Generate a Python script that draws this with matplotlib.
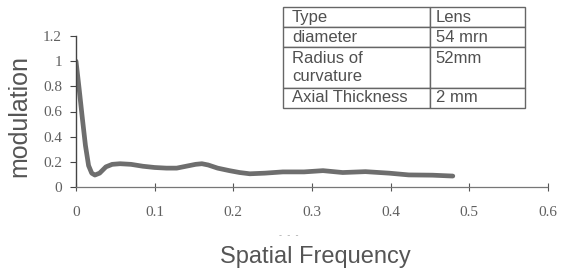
import numpy as np
import matplotlib.pyplot as plt

# MTF curve
freq = [0.0, 0.004, 0.008, 0.012, 0.016, 0.020, 0.024, 0.030, 0.038, 0.046, 0.056,
        0.070, 0.085, 0.100, 0.115, 0.128, 0.140, 0.152, 0.160, 0.168, 0.180,
        0.195, 0.208, 0.221, 0.240, 0.263, 0.290, 0.314, 0.339, 0.368, 0.398,
        0.423, 0.453, 0.479]
modulation = [1.00, 0.78, 0.55, 0.33, 0.17, 0.11, 0.095, 0.11, 0.16, 0.18, 0.185,
              0.18, 0.165, 0.155, 0.15, 0.15, 0.165, 0.18, 0.185, 0.175, 0.15,
              0.13, 0.115, 0.105, 0.11, 0.12, 0.12, 0.13, 0.115, 0.122, 0.11,
              0.096, 0.094, 0.087]

xticks = [0, 0.1, 0.2, 0.3, 0.4, 0.5, 0.6]
yticks = [0, 0.2, 0.4, 0.6, 0.8, 1.0, 1.2]
xtick_labels = ['0', '0.1', '0.2', '0.3', '0.4', '0.5', '0.6']
ytick_labels = ['0', '0.2', '0.4', '0.6', '0.8', '1', '1.2']

table_rows = [['Type', 'Lens'],
              ['diameter', '54 mrn'],
              ['Radius of\ncurvature', '52mm\n '],
              ['Axial Thickness', '2 mm']]
row_heights = [1, 1, 2, 1]

fig = plt.figure(figsize=(5.61, 2.73), dpi=100)
ax = fig.add_axes([76 / 561, 1 - 187 / 273, 472 / 561, 151 / 273])

ax.plot(freq, modulation, color='#6e6e6e', lw=3.4, solid_capstyle='round')

ax.set_xlim(0, 0.6)
ax.set_ylim(0, 1.2)
ax.set_xticks(xticks)
ax.set_xticklabels(xtick_labels)
ax.set_yticks(yticks)
ax.set_yticklabels(ytick_labels)

for s in ['top', 'right']:
    ax.spines[s].set_visible(False)
ax.spines['left'].set_color('#444444')
ax.spines['left'].set_linewidth(1.0)
ax.spines['bottom'].set_color('#777777')
ax.spines['bottom'].set_linewidth(0.9)
ax.spines['bottom'].set_linestyle((0, (2, 1)))

ax.tick_params(axis='y', direction='out', length=4, color='#444444', pad=6,
               labelsize=11, labelcolor='#606060')
ax.tick_params(axis='x', direction='inout', length=6, color='#555555', pad=11,
               labelsize=11, labelcolor='#606060')
for lab in ax.get_xticklabels() + ax.get_yticklabels():
    lab.set_family('Liberation Serif')

ax.set_ylabel('')
fig.text(19 / 561, 1 - 116 / 273, 'modulation', fontsize=18, color='#555555',
         family='Liberation Sans', rotation=90, ha='center', va='center')
fig.text(315 / 561, 1 - 257 / 273, 'Spatial Frequency', fontsize=17, color='#555555',
         family='Liberation Sans', ha='center', va='center')
fig.text(289 / 561, 1 - 236 / 273, '-  -  -', fontsize=6, color='#aaaaaa',
         ha='center', va='center')

# parameter table
x0 = (283 - 76) / 472
w = 242 / 472
y0 = (187 - 108) / 151
h = 101 / 151
tbl = ax.table(cellText=table_rows, colWidths=[147, 95], cellLoc='left',
               bbox=[x0, y0, w, h])
tbl.auto_set_font_size(False)
tbl.set_fontsize(12)
for (r, c), cell in tbl.get_celld().items():
    cell.set_height(row_heights[r] * 0.1)
    cell.set_edgecolor('#666666')
    cell.set_linewidth(1.0)
    cell.PAD = 0.06
    cell.get_text().set_color('#505050')
    cell.get_text().set_family('Liberation Sans')
    cell.get_text().set_linespacing(1.25)

fig.savefig('out.png', dpi=100)
